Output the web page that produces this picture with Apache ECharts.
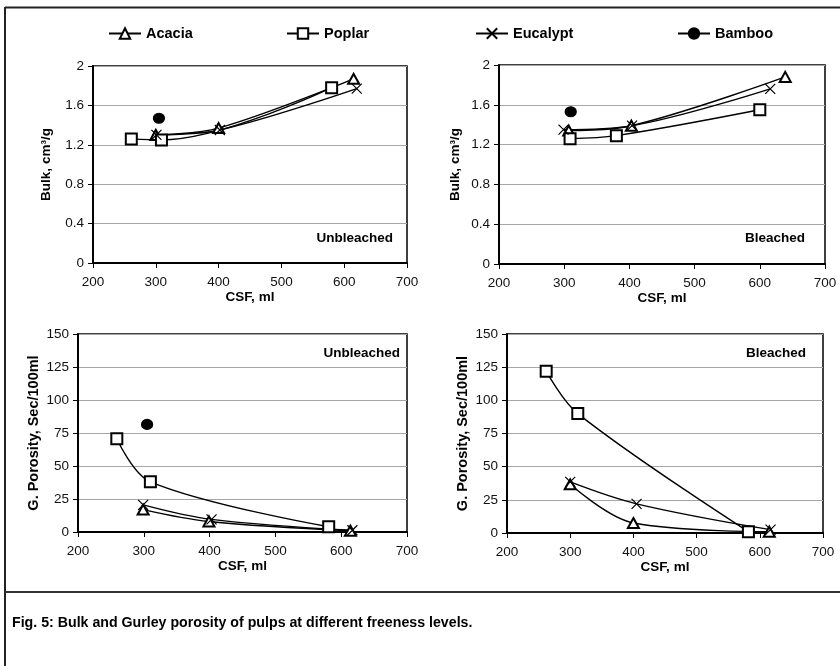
<!DOCTYPE html>
<html>
<head>
<meta charset="utf-8">
<script src="https://cdn.jsdelivr.net/npm/echarts@6/dist/echarts.min.js"></script>
<style>
html,body{margin:0;padding:0;background:#fff;}
#chart{width:840px;height:666px;}
</style>
</head>
<body>
<div id="chart"></div>
<script>
// ---- Data ----
const seriesNames = ['Acacia', 'Poplar', 'Eucalypt', 'Bamboo'];
const xTicks = [200, 300, 400, 500, 600, 700];
const bulkTicks = [0, 0.4, 0.8, 1.2, 1.6, 2];
const porosityTicks = [0, 25, 50, 75, 100, 125, 150];

// Panel 1: Bulk, Unbleached
const ubBulkAcaciaCSF = [300, 400, 615];
const ubBulkAcacia = [1.30, 1.37, 1.87];
const ubBulkPoplarCSF = [261, 309, 580];
const ubBulkPoplar = [1.26, 1.25, 1.78];
const ubBulkEucalyptCSF = [301, 402, 620];
const ubBulkEucalypt = [1.30, 1.35, 1.77];
const ubBulkBambooCSF = [305];
const ubBulkBamboo = [1.47];

// Panel 2: Bulk, Bleached
const bBulkAcaciaCSF = [307, 403, 639];
const bBulkAcacia = [1.34, 1.39, 1.88];
const bBulkPoplarCSF = [309, 380, 600];
const bBulkPoplar = [1.26, 1.29, 1.55];
const bBulkEucalyptCSF = [299, 404, 616];
const bBulkEucalypt = [1.35, 1.39, 1.76];
const bBulkBambooCSF = [310];
const bBulkBamboo = [1.53];

// Panel 3: Gurley porosity, Unbleached
const ubPorAcaciaCSF = [299, 399, 614];
const ubPorAcacia = [17, 8, 1];
const ubPorPoplarCSF = [259, 310, 581];
const ubPorPoplar = [70.6, 38, 4];
const ubPorEucalyptCSF = [299, 403, 617];
const ubPorEucalypt = [20.6, 9.6, 1.3];
const ubPorBambooCSF = [305];
const ubPorBamboo = [81.5];

// Panel 4: Gurley porosity, Bleached
const bPorAcaciaCSF = [300, 400, 615];
const bPorAcacia = [36.7, 7.5, 1];
const bPorPoplarCSF = [262, 312, 582];
const bPorPoplar = [122, 90, 1];
const bPorEucalyptCSF = [300, 405, 617];
const bPorEucalypt = [38.5, 22, 2.5];

// ---- Styling helpers ----
const FONT = '"Liberation Sans", Arial, Helvetica, sans-serif';
const X_SYMBOL = 'path://M0,0L10,10M0,10L10,0';
const symbols = {
  Acacia: {symbol: 'emptyTriangle', size: [11, 10]},
  Poplar: {symbol: 'emptyRect', size: 11},
  Eucalypt: {symbol: X_SYMBOL, size: 10},
  Bamboo: {symbol: 'circle', size: [11, 10]}
};
function zip(xs, ys) { return xs.map((x, i) => [x, ys[i]]); }

const panels = [
  {grid: {left: 93, top: 66, width: 314, height: 197}, ticks: bulkTicks, yName: 'Bulk, cm³/g', yNameSize: 13.5, yGap: 40,
   series: {Acacia: zip(ubBulkAcaciaCSF, ubBulkAcacia), Poplar: zip(ubBulkPoplarCSF, ubBulkPoplar), Eucalypt: zip(ubBulkEucalyptCSF, ubBulkEucalypt), Bamboo: zip(ubBulkBambooCSF, ubBulkBamboo)}},
  {grid: {left: 499, top: 65, width: 326, height: 199}, ticks: bulkTicks, yName: 'Bulk, cm³/g', yNameSize: 13.5, yGap: 37,
   series: {Acacia: zip(bBulkAcaciaCSF, bBulkAcacia), Poplar: zip(bBulkPoplarCSF, bBulkPoplar), Eucalypt: zip(bBulkEucalyptCSF, bBulkEucalypt), Bamboo: zip(bBulkBambooCSF, bBulkBamboo)}},
  {grid: {left: 78, top: 334, width: 329, height: 198}, ticks: porosityTicks, yName: 'G. Porosity, Sec/100ml', yNameSize: 14.5, yGap: 37,
   series: {Acacia: zip(ubPorAcaciaCSF, ubPorAcacia), Poplar: zip(ubPorPoplarCSF, ubPorPoplar), Eucalypt: zip(ubPorEucalyptCSF, ubPorEucalypt), Bamboo: zip(ubPorBambooCSF, ubPorBamboo)}},
  {grid: {left: 507, top: 334, width: 316, height: 199}, ticks: porosityTicks, yName: 'G. Porosity, Sec/100ml', yNameSize: 14.5, yGap: 37,
   series: {Acacia: zip(bPorAcaciaCSF, bPorAcacia), Poplar: zip(bPorPoplarCSF, bPorPoplar), Eucalypt: zip(bPorEucalyptCSF, bPorEucalypt)}}
];

const grids = [], xAxes = [], yAxes = [], series = [];
panels.forEach((p, i) => {
  grids.push(Object.assign({show: true, borderColor: '#000', borderWidth: 1.5, backgroundColor: 'transparent'}, p.grid));
  xAxes.push({
    type: 'value', gridIndex: i, min: xTicks[0], max: xTicks[xTicks.length - 1], interval: xTicks[1] - xTicks[0],
    name: 'CSF, ml', nameLocation: 'middle', nameGap: 21,
    nameTextStyle: {fontFamily: FONT, fontWeight: 'bold', fontSize: 13.5, color: '#000'},
    axisLine: {show: true, lineStyle: {color: '#000', width: 2}},
    axisTick: {show: true, inside: false, length: 5, lineStyle: {color: '#000', width: 1}},
    axisLabel: {fontFamily: FONT, fontSize: 13.5, color: '#111', margin: 12},
    splitLine: {show: false}
  });
  yAxes.push({
    type: 'value', gridIndex: i, min: p.ticks[0], max: p.ticks[p.ticks.length - 1], interval: p.ticks[1] - p.ticks[0],
    name: p.yName, nameLocation: 'middle', nameGap: p.yGap, nameRotate: 90,
    nameTextStyle: {fontFamily: FONT, fontWeight: 'bold', fontSize: p.yNameSize, color: '#000'},
    axisLine: {show: true, lineStyle: {color: '#000', width: 2}},
    axisTick: {show: true, inside: false, length: 5, lineStyle: {color: '#000', width: 1}},
    axisLabel: {fontFamily: FONT, fontSize: 13.5, color: '#111', margin: 9},
    splitLine: {show: true, lineStyle: {color: '#a6a6a6', width: 1}}
  });
  seriesNames.forEach(name => {
    if (!p.series[name]) return;
    const s = symbols[name];
    series.push({
      name: name, type: 'line', xAxisIndex: i, yAxisIndex: i,
      data: p.series[name], smooth: 0.35,
      symbol: s.symbol, symbolSize: s.size, showSymbol: true,
      lineStyle: {color: '#000', width: 1.4},
      itemStyle: {color: '#000', borderColor: '#000', borderWidth: 1.2},
      emphasis: {disabled: true},
      z: 3
    });
  });
});

const legendLefts = [103, 281, 470, 672];
const legends = seriesNames.map((n, i) => ({
  data: [n], left: legendLefts[i], top: 21, itemWidth: 32, itemHeight: 13, itemGap: 5,
  textStyle: {fontFamily: FONT, fontWeight: 'bold', fontSize: 14.5, color: '#000'},
  selectedMode: false
}));

function label(text, right, y, size) {
  return {type: 'text', x: right, y: y, style: {text: text, align: 'right', verticalAlign: 'middle',
    font: 'bold ' + size + 'px ' + FONT, fill: '#000'}, z: 10};
}

const option = {
  animation: false,
  backgroundColor: '#fff',
  legend: legends,
  grid: grids, xAxis: xAxes, yAxis: yAxes, series: series,
  graphic: [
    {type: 'line', shape: {x1: 5, y1: 7.5, x2: 840, y2: 7.5}, style: {stroke: '#222', lineWidth: 2}},
    {type: 'line', shape: {x1: 5, y1: 7, x2: 5, y2: 666}, style: {stroke: '#222', lineWidth: 2}},
    {type: 'line', shape: {x1: 5, y1: 592, x2: 840, y2: 592}, style: {stroke: '#333', lineWidth: 2}},
    {type: 'text', x: 12, y: 623, style: {text: 'Fig. 5: Bulk and Gurley porosity of pulps at different freeness levels.',
      verticalAlign: 'middle', font: 'bold 14.2px ' + FONT, fill: '#000'}},
    label('Unbleached', 393, 238, 13.5),
    label('Bleached', 805, 238, 13.5),
    label('Unbleached', 400, 353, 13.5),
    label('Bleached', 806, 353, 13.5)
  ]
};

const chart = echarts.init(document.getElementById('chart'), null, {renderer: 'canvas'});
chart.setOption(option);
</script>
</body>
</html>
